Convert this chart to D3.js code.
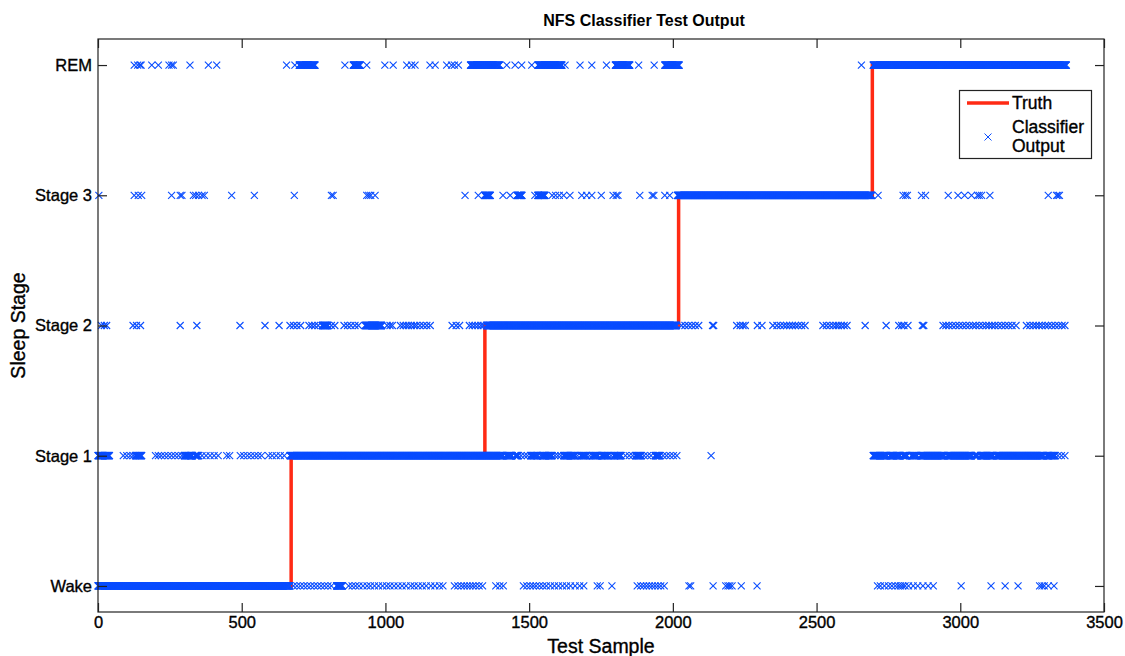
<!DOCTYPE html>
<html>
<head>
<meta charset="utf-8">
<script src="https://cdn.jsdelivr.net/npm/d3@7"></script>
<style>
  html, body { margin: 0; padding: 0; background: #fff; }
  svg { display: block; font-family: "Liberation Sans", Arial, sans-serif; }
  .heavy { stroke: #000; stroke-width: 0.35px; paint-order: stroke; }
</style>
</head>
<body>
<svg id="chart" width="1125" height="656"></svg>
<script>
// ---------------- DATA ----------------
const stageLabels = ["Wake", "Stage 1", "Stage 2", "Stage 3", "REM"];
const xTickValues = [0, 500, 1000, 1500, 2000, 2500, 3000, 3500];

// Truth: stage changes (sample index where each stage starts) and last sample
const truthStarts = [0, 672, 1346, 2020, 2694, 3370];
const truthLevels = [0, 1, 2, 3, 4, 4];

// Classifier output: dense runs (every sample in [start,end]) and isolated samples, per stage
const wakeRuns = [[0, 667], [830, 850]];
const wakePoints = [680, 692, 704, 716, 728, 740, 752, 764, 776, 788, 800, 812,
  872, 884, 896, 908, 922, 936, 948, 962, 976, 990, 1004, 1016, 1030, 1044, 1058, 1072, 1088, 1100, 1114, 1128, 1142, 1158, 1172, 1188, 1200,
  1240, 1252, 1264, 1274, 1284, 1294, 1304, 1314, 1326, 1338, 1384, 1398, 1410,
  1480, 1492, 1504, 1514, 1524, 1536, 1548, 1560, 1574, 1588, 1602, 1616, 1630, 1644, 1660, 1676, 1690, 1737,
  1747, 1788, 1876, 1888, 1898, 1908, 1918, 1928, 1938, 1948, 1958, 1970,
  2056, 2062, 2140, 2184, 2192, 2198, 2206, 2238, 2293,
  2712, 2722, 2736, 2750, 2762, 2774, 2784, 2792, 2800, 2808, 2820, 2836, 2852, 2870, 2888, 2906,
  3003, 3107, 3156, 3201, 3276, 3284, 3292, 3306, 3326];

const stage1Runs = [[0, 40], [130, 152], [300, 328], [338, 350], [668, 1410], [1420, 1440], [1452, 1462],
  [1505, 1530], [1545, 1580], [1620, 1660], [1680, 1700], [1720, 1740], [1752, 1775], [1795, 1820],
  [1870, 1890], [1938, 1955], [2697, 2745], [2755, 2790], [2800, 2815], [2830, 2850], [2862, 2945],
  [2955, 3040], [3050, 3060], [3070, 3115], [3125, 3290], [3300, 3330]];
const stage1Points = [88, 100, 112, 122, 200, 210, 220, 232, 244, 256, 268, 280, 292,
  362, 376, 390, 404, 418, 448, 458, 495, 507, 520, 532, 545, 557, 569, 593, 606, 620, 634, 648,
  1472, 1484, 1494, 1540, 1590, 1600, 1610, 1668, 1710, 1785, 1835, 1848, 1860, 1900, 1912, 1924,
  1966, 1978, 1990, 2002, 2014, 2133, 3340, 3352, 3364];

const stage2Runs = [[780, 800], [930, 987], [1352, 2013]];
const stage2Points = [12, 22, 30, 122, 134, 148, 286, 344, 494, 581, 630, 668, 680, 692, 705,
  734, 744, 754, 766, 812, 824, 856, 868, 880, 894, 906, 1006, 1016, 1024,
  1052, 1062, 1072, 1080, 1090, 1100, 1108, 1120, 1132, 1144, 1156, 1232, 1246, 1258,
  1292, 1302, 1312, 1322, 1332, 1340, 2030, 2042, 2054, 2066, 2078, 2090, 2138, 2142,
  2222, 2234, 2244, 2252, 2294, 2310, 2348, 2362, 2374, 2386, 2396, 2406, 2416, 2426, 2436, 2448, 2460,
  2522, 2534, 2546, 2558, 2568, 2576, 2586, 2596, 2606, 2669, 2742, 2786, 2796, 2804, 2818, 2868, 2873,
  2940, 2950, 2960, 2972, 2984, 2996, 3008, 3020, 3032, 3044, 3054, 3066, 3078, 3090, 3100, 3110, 3120,
  3132, 3144, 3156, 3168, 3180, 3194, 3230, 3242, 3254, 3264, 3274, 3284, 3296, 3306, 3318, 3330, 3342, 3354, 3364];

const stage3Runs = [[1345, 1365], [1458, 1475], [1530, 1555], [2016, 2692]];
const stage3Points = [3, 126, 140, 152, 256, 286, 292, 332, 340, 350, 362, 370, 465, 544, 683, 812, 818,
  935, 942, 949, 964, 1277, 1323, 1409, 1434, 1520, 1580, 1592, 1605, 1620, 1642, 1683, 1700, 1718,
  1751, 1792, 1803, 1809, 1885, 1928, 1934, 1972, 1989, 2714, 2801, 2810, 2816, 2865, 2879,
  2958, 2992, 3015, 3039, 3060, 3066, 3074, 3103, 3306, 3335, 3340, 3345];

const remRuns = [[700, 755], [888, 912], [1296, 1397], [1531, 1614], [1800, 1850], [1972, 2022], [2697, 3369]];
const remPoints = [126, 138, 146, 150, 187, 210, 247, 256, 262, 320, 384, 413, 656, 685, 859, 935,
  998, 1027, 1074, 1091, 1103, 1155, 1173, 1213, 1230, 1240, 1254, 1422, 1451, 1474,
  1509, 1625, 1677, 1718, 1769, 1881, 1935, 2656];

// ---------------- LAYOUT ----------------
const svg = d3.select("#chart");
const pL = 98, pR = 1104, pT = 39, pB = 612;

const x = d3.scaleLinear().domain([0, 3500]).range([pL, pR]);
const y = d3.scaleLinear().domain([-0.2, 4.2]).range([pB, pT]);

const blue = "#0a4dff";
const red = "#ff2a14";

// truth line
const truthData = truthStarts.map((s, i) => ({ s, v: truthLevels[i] }));
svg.append("path")
  .datum(truthData)
  .attr("fill", "none")
  .attr("stroke", red)
  .attr("stroke-width", 3.5)
  .attr("d", d3.line().x(d => x(d.s)).y(d => y(d.v)).curve(d3.curveStepAfter));

// classifier markers
function expand(runs, points) {
  const out = [];
  runs.forEach(([a, b]) => { for (let s = a; s <= b; s++) out.push(s); });
  points.forEach(p => out.push(p));
  return out;
}
const classData = [];
[[wakeRuns, wakePoints], [stage1Runs, stage1Points], [stage2Runs, stage2Points],
 [stage3Runs, stage3Points], [remRuns, remPoints]].forEach(([r, p], lvl) => {
  expand(r, p).forEach(s => classData.push({ s, v: lvl }));
});
const m = 3.5;
svg.append("g")
  .selectAll("path")
  .data(classData)
  .join("path")
  .attr("fill", "none")
  .attr("stroke", blue)
  .attr("stroke-width", 1.1)
  .attr("d", d => {
    const cx = x(d.s), cy = y(d.v);
    return `M${cx - m},${cy - m}L${cx + m},${cy + m}M${cx - m},${cy + m}L${cx + m},${cy - m}`;
  });

// axes box
const tickLen = 9;
const axisColor = "#222";
svg.append("rect")
  .attr("x", pL).attr("y", pT).attr("width", pR - pL).attr("height", pB - pT)
  .attr("fill", "none").attr("stroke", axisColor).attr("stroke-width", 1.2);

const xb = d3.axisBottom(x).tickValues(xTickValues).tickSize(-tickLen).tickPadding(4).tickFormat(d3.format("d"));
const gx = svg.append("g").attr("transform", `translate(0,${pB})`).call(xb);
const xt = d3.axisTop(x).tickValues(xTickValues).tickSize(-tickLen).tickFormat("");
const gxt = svg.append("g").attr("transform", `translate(0,${pT})`).call(xt);

const yl = d3.axisLeft(y).tickValues([0, 1, 2, 3, 4]).tickSize(-tickLen).tickPadding(6)
  .tickFormat(i => stageLabels[i]);
const gy = svg.append("g").attr("transform", `translate(${pL},0)`).call(yl);
const yr = d3.axisRight(y).tickValues([0, 1, 2, 3, 4]).tickSize(-tickLen).tickFormat("");
const gyr = svg.append("g").attr("transform", `translate(${pR},0)`).call(yr);

[gx, gxt, gy, gyr].forEach(g => {
  g.select(".domain").remove();
  g.selectAll(".tick line").attr("stroke", axisColor).attr("stroke-width", 1.2);
  g.selectAll(".tick text").attr("fill", "#000").attr("font-size", 16.5)
    .attr("class", "heavy")
    .attr("font-family", "Liberation Sans, Arial, sans-serif");
});

// title & labels
svg.append("text").attr("x", 644).attr("y", 26)
  .attr("text-anchor", "middle").attr("font-size", 16).attr("font-weight", "bold")
  .text("NFS Classifier Test Output");
svg.append("text").attr("x", (pL + pR) / 2).attr("y", 653).attr("class", "heavy")
  .attr("text-anchor", "middle").attr("font-size", 19.5)
  .text("Test Sample");
svg.append("text").attr("transform", `translate(25,${(pT + pB) / 2}) rotate(-90)`).attr("class", "heavy")
  .attr("text-anchor", "middle").attr("font-size", 19.5)
  .text("Sleep Stage");

// legend
const lg = svg.append("g");
lg.append("rect").attr("x", 959.5).attr("y", 90.5).attr("width", 132).attr("height", 68)
  .attr("fill", "#fff").attr("stroke", axisColor).attr("stroke-width", 1.2);
lg.append("line").attr("x1", 967).attr("x2", 1009).attr("y1", 103).attr("y2", 103)
  .attr("stroke", red).attr("stroke-width", 3.5);
lg.append("text").attr("x", 1012).attr("y", 109).attr("font-size", 17.5).attr("class", "heavy").text("Truth");
const lx = 988, ly = 137;
lg.append("path").attr("fill", "none").attr("stroke", blue).attr("stroke-width", 1)
  .attr("d", `M${lx - m},${ly - m}L${lx + m},${ly + m}M${lx - m},${ly + m}L${lx + m},${ly - m}`);
lg.append("text").attr("x", 1012).attr("y", 133).attr("font-size", 17.5).attr("class", "heavy").text("Classifier");
lg.append("text").attr("x", 1012).attr("y", 152).attr("font-size", 17.5).attr("class", "heavy").text("Output");
</script>
</body>
</html>
